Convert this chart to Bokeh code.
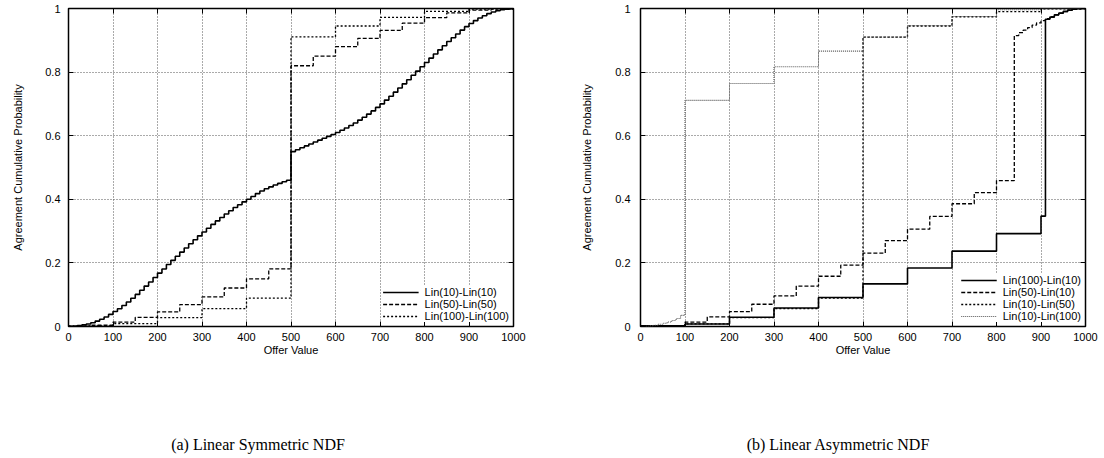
from bokeh.plotting import figure
from bokeh.layouts import row, column
from bokeh.models import Range1d, FixedTicker, LinearAxis, Legend, LegendItem, Div
from bokeh.embed import file_html
from bokeh.resources import INLINE

# ---------------- data ----------------
x_ticks = [0, 100, 200, 300, 400, 500, 600, 700, 800, 900, 1000]
y_ticks = [0, 0.2, 0.4, 0.6, 0.8, 1]

# (a) Linear Symmetric NDF
sym_x10 = list(range(0, 1001, 10))
sym_lin10 = [0.000, 0.001, 0.003, 0.005, 0.008, 0.012, 0.017, 0.023, 0.030, 0.038,
             0.047, 0.056, 0.066, 0.077, 0.089, 0.101, 0.114, 0.127, 0.140, 0.154,
             0.168, 0.181, 0.195, 0.208, 0.221, 0.234, 0.247, 0.260, 0.273, 0.285,
             0.297, 0.309, 0.321, 0.332, 0.343, 0.354, 0.364, 0.374, 0.383, 0.392,
             0.400, 0.409, 0.418, 0.426, 0.433, 0.439, 0.445, 0.450, 0.455, 0.460,
             0.550, 0.556, 0.562, 0.568, 0.574, 0.580, 0.586, 0.592, 0.598, 0.604,
             0.610, 0.617, 0.624, 0.632, 0.640, 0.649, 0.658, 0.668, 0.678, 0.689,
             0.700, 0.712, 0.724, 0.737, 0.750, 0.763, 0.776, 0.790, 0.803, 0.817,
             0.830, 0.844, 0.857, 0.870, 0.883, 0.896, 0.908, 0.920, 0.932, 0.943,
             0.953, 0.962, 0.970, 0.977, 0.984, 0.989, 0.993, 0.996, 0.998, 0.999,
             1.000]
sym_x50 = list(range(0, 1001, 50))
sym_lin50 = [0.001, 0.004, 0.014, 0.029, 0.046, 0.069, 0.093, 0.121, 0.150, 0.181,
             0.820, 0.850, 0.880, 0.906, 0.931, 0.954, 0.971, 0.986, 0.995, 0.999,
             1.000]
sym_x100 = list(range(0, 1001, 100))
sym_lin100 = [0.002, 0.009, 0.028, 0.056, 0.089, 0.911, 0.945, 0.972, 0.991, 0.998, 1.000]

# (b) Linear Asymmetric NDF
asym_a_x = [0, 100, 200, 300, 400, 500, 600, 700, 800, 900,
            910, 920, 930, 940, 950, 960, 970, 980, 990, 1000]
asym_a_y = [0.002, 0.008, 0.029, 0.058, 0.091, 0.134, 0.184, 0.237, 0.292, 0.347,
            0.966, 0.973, 0.980, 0.986, 0.991, 0.995, 0.998, 0.999, 1.000, 1.000]
asym_b_x = [0, 50, 100, 150, 200, 250, 300, 350, 400, 450, 500, 550, 600, 650, 700, 750, 800,
            840, 850, 860, 870, 880, 890, 900, 910, 920, 930, 940, 950, 960, 970, 980, 990, 1000]
asym_b_y = [0.001, 0.003, 0.014, 0.030, 0.047, 0.070, 0.096, 0.127, 0.158, 0.193,
            0.231, 0.270, 0.306, 0.346, 0.386, 0.421, 0.459,
            0.915, 0.924, 0.932, 0.940, 0.948, 0.955, 0.962, 0.968, 0.974, 0.980,
            0.985, 0.990, 0.994, 0.997, 0.999, 1.000, 1.000]
asym_c_x = list(range(0, 1001, 100))
asym_c_y = [0.002, 0.008, 0.028, 0.056, 0.089, 0.910, 0.945, 0.974, 0.990, 0.999, 1.000]
asym_d_x = [0, 10, 20, 30, 40, 50, 60, 70, 80, 90,
            100, 200, 300, 400, 500, 600, 700, 800, 900, 1000]
asym_d_y = [0.000, 0.001, 0.002, 0.004, 0.007, 0.010, 0.014, 0.019, 0.025, 0.035,
            0.711, 0.764, 0.817, 0.866, 0.910, 0.946, 0.975, 0.996, 1.000, 1.000]

sym_labels = ["Lin(10)-Lin(10)", "Lin(50)-Lin(50)", "Lin(100)-Lin(100)"]
asym_labels = ["Lin(100)-Lin(10)", "Lin(50)-Lin(10)", "Lin(10)-Lin(50)", "Lin(10)-Lin(100)"]
captions = ["(a) Linear Symmetric NDF", "(b) Linear Asymmetric NDF"]

# ---------------- styling ----------------
FONT = "Liberation Sans"
SERIF = "Liberation Serif"
STYLES = {
    "solid": dict(line_color="black", line_width=1.6),
    "dashed": dict(line_color="black", line_width=1.3, line_dash="4 2"),
    "dotted": dict(line_color="black", line_width=1.3, line_dash="2 2"),
    "fine": dict(line_color="#555555", line_width=1.1, line_dash="1 1"),
}
H = 380


def make_fig(width, border_left, border_right, ylab_standoff, tick_standoff):
    p = figure(width=width, height=H, x_range=Range1d(0, 1000), y_range=Range1d(0, 1),
               output_backend="svg", toolbar_location=None,
               min_border_left=border_left, min_border_right=border_right,
               min_border_top=8, min_border_bottom=54)
    p.background_fill_color = "white"
    p.border_fill_color = "white"
    p.outline_line_color = "black"
    p.outline_line_width = 1.5

    p.xaxis.ticker = FixedTicker(ticks=x_ticks)
    p.yaxis.ticker = FixedTicker(ticks=y_ticks)
    p.yaxis.major_label_overrides = {0: "0", 1: "1"}
    for ax in (p.xaxis[0], p.yaxis[0]):
        ax.axis_line_color = None
        ax.major_tick_in = 5
        ax.major_tick_out = 0
        ax.major_tick_line_color = "black"
        ax.minor_tick_line_color = None
        ax.major_label_text_font = FONT
        ax.major_label_text_font_size = "11px"
        ax.major_label_text_color = "black"
        ax.axis_label_text_font = FONT
        ax.axis_label_text_font_size = "11px"
        ax.axis_label_text_font_style = "normal"
        ax.axis_label_text_color = "black"
    p.xaxis.axis_label = "Offer Value"
    p.xaxis.major_label_standoff = 6
    p.xaxis.axis_label_standoff = 0
    p.yaxis.axis_label = "Agreement Cumulative Probability"
    p.yaxis.major_label_standoff = tick_standoff
    p.yaxis.axis_label_standoff = ylab_standoff

    # mirrored ticks on top and right
    top = LinearAxis(ticker=FixedTicker(ticks=x_ticks), axis_line_color=None,
                     major_tick_in=5, major_tick_out=0, minor_tick_line_color=None,
                     major_label_standoff=0, major_label_text_color=None,
                     major_label_text_font_size="1px")
    right = LinearAxis(ticker=FixedTicker(ticks=y_ticks), axis_line_color=None,
                       major_tick_in=5, major_tick_out=0, minor_tick_line_color=None,
                       major_label_standoff=0, major_label_text_color=None,
                       major_label_text_font_size="1px")
    p.add_layout(top, "above")
    p.add_layout(right, "right")

    p.xgrid.ticker = FixedTicker(ticks=x_ticks)
    p.ygrid.ticker = FixedTicker(ticks=y_ticks)
    for g in (p.xgrid[0], p.ygrid[0]):
        g.grid_line_color = "#555555"
        g.grid_line_dash = "1 2"
        g.grid_line_width = 1
    return p


def add_legend(p, renderers, labels):
    leg = Legend(items=[LegendItem(label=l, renderers=[r]) for l, r in zip(labels, renderers)],
                 location="bottom_right")
    leg.background_fill_color = "white"
    leg.background_fill_alpha = 1.0
    leg.border_line_color = None
    leg.label_text_font = FONT
    leg.label_text_font_size = "11px"
    leg.label_text_color = "black"
    leg.label_height = 12
    leg.glyph_height = 12
    leg.glyph_width = 36
    leg.label_standoff = 6
    leg.spacing = 0
    leg.padding = 4
    leg.margin = 4
    p.add_layout(leg)


def caption_div(text, width, center):
    html = ('<div style="margin-left:%dpx; width:300px; text-align:center; padding-top:56px; '
            'font-family:\'%s\', serif; font-size:16px; line-height:18px; color:black; '
            'white-space:nowrap;">%s</div>') % (center - 150, SERIF, text)
    return Div(text=html, width=width, height=78, margin=0)


# ---------------- (a) ----------------
p1 = make_fig(560, 68, 47, 18, 8)
r1 = p1.step(sym_x10, sym_lin10, mode="after", **STYLES["solid"])
r2 = p1.step(sym_x50, sym_lin50, mode="after", **STYLES["dashed"])
r3 = p1.step(sym_x100, sym_lin100, mode="after", **STYLES["dotted"])
add_legend(p1, [r1, r2, r3], sym_labels)

# ---------------- (b) ----------------
p2 = make_fig(543, 80, 18, 19, 10)
q1 = p2.step(asym_a_x, asym_a_y, mode="after", **STYLES["solid"])
q2 = p2.step(asym_b_x, asym_b_y, mode="after", **STYLES["dashed"])
q3 = p2.step(asym_c_x, asym_c_y, mode="after", **STYLES["dotted"])
q4 = p2.step(asym_d_x, asym_d_y, mode="after", **STYLES["fine"])
add_legend(p2, [q1, q2, q3, q4], asym_labels)

d1 = caption_div(captions[0], 560, 258)
d2 = caption_div(captions[1], 543, 278)

layout = column(row(p1, p2), row(d1, d2))

open("out.html", "w").write(file_html(layout, INLINE))
